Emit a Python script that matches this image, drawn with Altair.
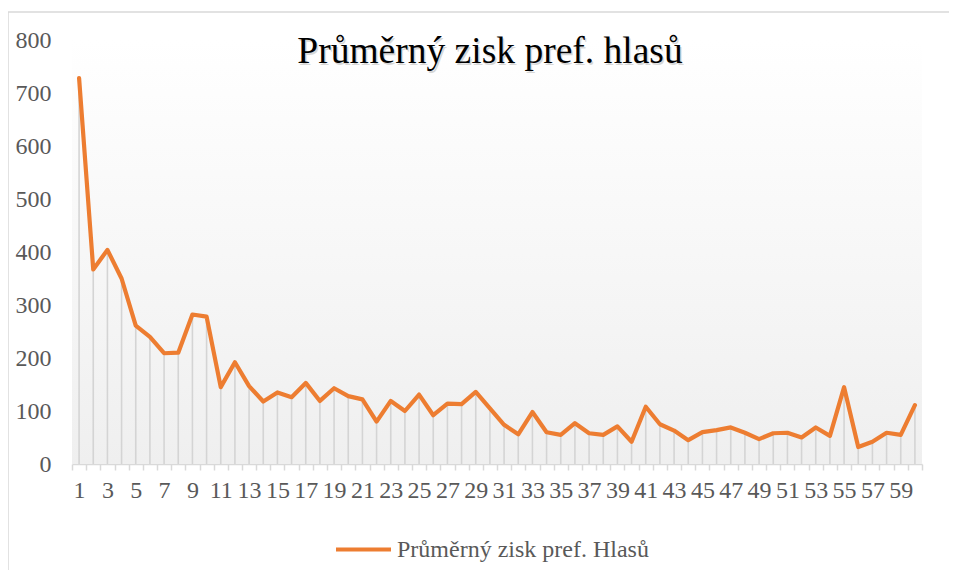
import altair as alt
import pandas as pd

title_text = "Průměrný zisk pref. hlasů"
series_name = "Průměrný zisk pref. Hlasů"

categories = list(range(1, 61))
values = [728, 367, 404, 350, 261, 240, 209, 210, 282, 278,
          145, 192, 147, 118, 135, 126, 153, 119, 143, 128,
          122, 80, 119, 100, 131, 92, 114, 113, 136, 105,
          74, 56, 98, 60, 55, 77, 58, 55, 71, 42,
          108, 75, 63, 45, 60, 64, 69, 59, 47, 58,
          59, 50, 69, 53, 145, 32, 42, 59, 55, 111]
y_ticks = [0, 100, 200, 300, 400, 500, 600, 700, 800]

df = pd.DataFrame({"cat": categories, "val": values, "series": [series_name] * len(values)})
one = pd.DataFrame({"t": [title_text]})

W, H = 850, 424
SERIF = "Liberation Serif"
GRAY = "#595959"

xenc = alt.X("cat:O",
             scale=alt.Scale(type="band", paddingInner=0, paddingOuter=0),
             axis=alt.Axis(title=None, labelAngle=0, labelFont=SERIF, labelFontSize=24,
                           labelColor=GRAY, domainColor="#d9d9d9", domainWidth=1.5,
                           tickColor="#d9d9d9", tickWidth=1.5, tickSize=6, tickBand="extent",
                           labelPadding=8, grid=False, labelOverlap=False, labelBound=False,
                           labelExpr="datum.value % 2 == 1 ? datum.label : ''"))
yenc = alt.Y("val:Q",
             scale=alt.Scale(domain=[0, 800], nice=False),
             axis=alt.Axis(title=None, values=y_ticks, grid=False, domain=False, ticks=False,
                           labelFont=SERIF, labelFontSize=24, labelColor=GRAY, labelPadding=21))

border_top = alt.Chart(one).mark_rule(color="#d9d9d9", strokeWidth=1.5, clip=False).encode(
    x=alt.value(-64), x2=alt.value(1200), y=alt.value(-28))
border_left = alt.Chart(one).mark_rule(color="#d9d9d9", strokeWidth=1.5, clip=False).encode(
    x=alt.value(-64), y=alt.value(-28), y2=alt.value(1200))

bg = alt.Chart(one).mark_rect(
    fill=alt.Gradient(gradient="linear", x1=0, x2=0, y1=0, y2=1,
                      stops=[alt.GradientStop(color="#ffffff", offset=0),
                             alt.GradientStop(color="#efefef", offset=1)])).encode(
    x=alt.value(0), x2=alt.value(W), y=alt.value(0), y2=alt.value(H))

drops = alt.Chart(df).mark_rule(color="#d4d4d4", strokeWidth=1.6).encode(
    x=xenc, y=yenc, y2=alt.datum(0))

line = alt.Chart(df).mark_line(strokeWidth=4.2, strokeJoin="round", strokeCap="round").encode(
    x=xenc, y=yenc,
    color=alt.Color("series:N", scale=alt.Scale(range=["#ED7D31"]),
                    legend=alt.Legend(title=None, orient="none", legendX=262, legendY=480,
                                      symbolType="stroke", symbolSize=3025, symbolStrokeWidth=4,
                                      labelFont=SERIF, labelFontSize=24, labelColor=GRAY,
                                      labelOffset=4, labelLimit=500)))

shadow = alt.Chart(one).mark_text(font=SERIF, fontSize=37.5, color="#000000", opacity=0.15,
                                  align="center", baseline="alphabetic").encode(
    text="t:N", x=alt.value(419.5), y=alt.value(24.5))
title = alt.Chart(one).mark_text(font=SERIF, fontSize=37.5, color="#000000",
                                 align="center", baseline="alphabetic").encode(
    text="t:N", x=alt.value(418), y=alt.value(23))

chart = alt.layer(border_top, border_left, bg, drops, line, shadow, title).properties(
    width=W, height=H,
    autosize=alt.AutoSizeParams(type="none"),
    padding={"left": 64, "top": 32, "right": 27, "bottom": 106},
).configure_view(stroke=None)

chart.save("out.html", embed_options={"renderer": "svg", "actions": False})
